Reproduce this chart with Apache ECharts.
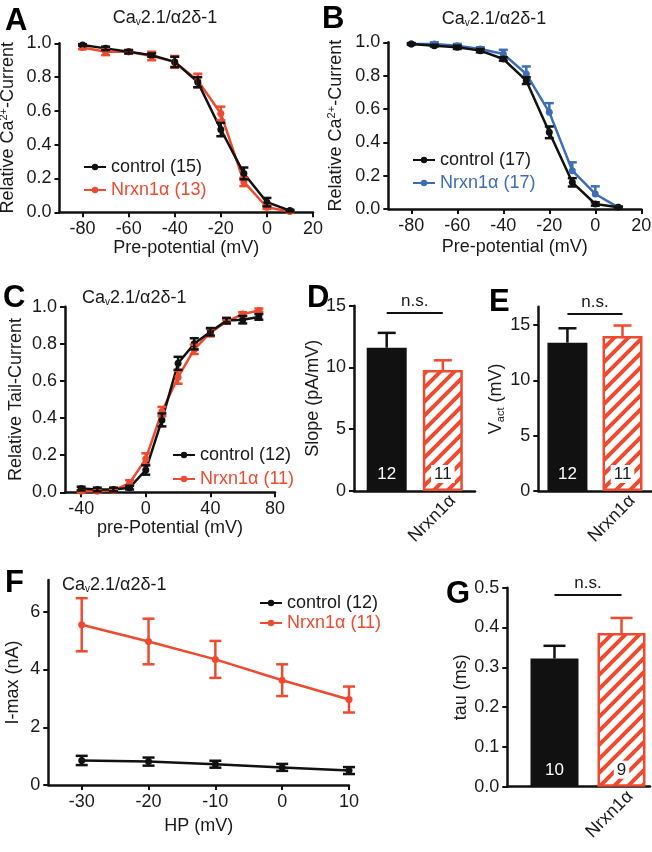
<!DOCTYPE html>
<html><head><meta charset="utf-8">
<script src="https://cdn.jsdelivr.net/npm/echarts@6/dist/echarts.min.js"></script>
<style>html,body{margin:0;padding:0;background:#fff}#c{width:652px;height:852px}</style>
</head><body><div id="c"></div>
<script>
// ---------- data ----------
const abX = [-80,-70,-60,-50,-40,-30,-20,-10,0,10];
const aCtrl    = [0.99,0.97,0.95,0.93,0.89,0.77,0.49,0.23,0.06,0.01];
const aCtrlErr = [0.005,0.01,0.01,0.01,0.03,0.03,0.04,0.035,0.025,0.005];
const aNrx     = [0.975,0.95,0.95,0.925,0.89,0.78,0.585,0.18,0.03,0.005];
const aNrxErr  = [0.01,0.02,0.01,0.025,0.035,0.04,0.04,0.025,0.01,0.005];

const bCtrl    = [0.99,0.98,0.97,0.95,0.90,0.77,0.46,0.16,0.03,0.01];
const bCtrlErr = [0.005,0.005,0.01,0.01,0.01,0.02,0.035,0.025,0.01,0.005];
const bNrx     = [0.99,0.99,0.98,0.96,0.93,0.81,0.58,0.23,0.09,0.01];
const bNrxErr  = [0.005,0.01,0.01,0.01,0.025,0.045,0.055,0.05,0.046,0.005];

const cX = [-40,-30,-20,-10,0,10,20,30,40,50,60,70];
const cCtrl    = [0.02,0.015,0.015,0.025,0.12,0.39,0.695,0.80,0.865,0.925,0.93,0.945];
const cCtrlErr = [0.01,0.01,0.01,0.01,0.025,0.035,0.035,0.03,0.02,0.015,0.02,0.015];
const cNrx     = [0.005,0.005,0.01,0.05,0.18,0.435,0.62,0.77,0.86,0.92,0.96,0.98];
const cNrxErr  = [0.005,0.005,0.005,0.015,0.03,0.025,0.035,0.025,0.02,0.01,0.01,0.01];

const fX = [-30,-20,-10,0,10];
const fCtrl    = [0.85,0.81,0.72,0.61,0.50];
const fCtrlErr = [0.16,0.14,0.12,0.12,0.12];
const fNrx     = [5.55,4.97,4.35,3.63,2.96];
const fNrxErr  = [0.92,0.79,0.64,0.55,0.45];

const barTickLabels = ['', 'Nrxn1α'];
const dVals = [11.6, 9.8];    const dErr = [1.2, 0.78];   const dN = [12, 11];  const dNs = 14.4;
const eVals = [13.4, 14.0];   const eErr = [1.3, 0.95];   const eN = [12, 11];  const eNs = 16.05;
const gVals = [0.322, 0.386]; const gErr = [0.032, 0.038]; const gN = [10, 9];  const gNs = 0.483;

const ticksAB_X = [-80,-60,-40,-20,0,20];
const ticksABC_Y = [0,0.2,0.4,0.6,0.8,1.0];
const ticksC_X = [-40,0,40,80];
const ticksF_X = [-30,-20,-10,0,10];
const ticksF_Y = [0,2,4,6];
const ticksDE_Y = [0,5,10,15];
const ticksG_Y = [0,0.1,0.2,0.3,0.4,0.5];

// ---------- style ----------
const FONT = '"Liberation Sans", Arial, Helvetica, sans-serif';
const RED = '#ee4a2f', BLUE = '#3d6db5', BLACK = '#111111', TXT = '#1a1a1a';
const RICH = {
  a:{fontSize:18, fontFamily:FONT, color:TXT},
  sup:{fontSize:11, fontFamily:FONT, color:TXT, padding:[0,0,9,0]},
  sub:{fontSize:11, fontFamily:FONT, color:TXT, padding:[9,0,0,0]}
};

// hatch pattern
const pc = document.createElement('canvas');
pc.width = 14; pc.height = 14;
const g2 = pc.getContext('2d');
g2.fillStyle = '#fff'; g2.fillRect(0,0,14,14);
g2.strokeStyle = RED; g2.lineWidth = 4;
g2.beginPath();
g2.moveTo(-2,16); g2.lineTo(16,-2);
g2.moveTo(-9,9); g2.lineTo(9,-9);
g2.moveTo(5,23); g2.lineTo(23,5);
g2.stroke();
const HATCH = {image: pc, repeat: 'repeat'};

function axisCommon(o) {
  return Object.assign({
    nameLocation:'middle',
    axisLine:{onZero:false, lineStyle:{color:BLACK, width:2.5}},
    splitLine:{show:false},
    nameTextStyle:{fontSize:18, color:TXT, fontFamily:FONT, rich:RICH}
  }, o);
}
function ticksOpt(vals, show) {
  return {show: show !== false, customValues: vals, length:5, lineStyle:{color:BLACK, width:2}};
}
function labelsOpt(vals, fmt, extra) {
  return Object.assign({customValues: vals, fontSize:18, color:TXT, fontFamily:FONT, margin:8, formatter: fmt}, extra || {});
}
const f1 = v => v.toFixed(1);
const f0 = v => String(Math.round(v));
// rotated category label, nudged right (in axis units) so its end sits past the bar centre
function catLabel(shift) {
  return labelsOpt([2 + shift], v => barTickLabels[Math.round(v)-1], {rotate:45, margin:7});
}

const grids = [
  {left:59.5, top:43.3, width:253.5, height:169},   // A
  {left:388.3, top:42.3, width:253, height:166.7},  // B
  {left:65, top:306.7, width:210, height:185.6},    // C
  {left:354, top:305.7, width:121, height:185.3},   // D
  {left:538.3, top:306.7, width:113.4, height:184.3}, // E
  {left:48.3, top:580, width:300.7, height:205},    // F
  {left:507.3, top:587.7, width:142.7, height:199}  // G
].map(g => Object.assign({outerBoundsMode:'none', containLabel:false}, g));

const xAxis = [
  axisCommon({type:'value', gridIndex:0, min:-90, max:20, name:'Pre-potential (mV)', nameGap:27,
    axisTick:ticksOpt(ticksAB_X), axisLabel:labelsOpt(ticksAB_X, f0)}),
  axisCommon({type:'value', gridIndex:1, min:-90, max:20, name:'Pre-potential (mV)', nameGap:29,
    axisTick:ticksOpt(ticksAB_X), axisLabel:labelsOpt(ticksAB_X, f0)}),
  axisCommon({type:'value', gridIndex:2, min:-50, max:80, name:'pre-Potential (mV)', nameGap:27,
    axisTick:ticksOpt(ticksC_X), axisLabel:labelsOpt(ticksC_X, f0)}),
  axisCommon({type:'value', gridIndex:3, min:0.417, max:2.574,
    axisTick:{show:false}, axisLabel:catLabel(0.18)}),
  axisCommon({type:'value', gridIndex:4, min:0.471, max:2.53,
    axisTick:{show:false}, axisLabel:catLabel(0.18)}),
  axisCommon({type:'value', gridIndex:5, min:-35, max:10, name:'HP (mV)', nameGap:32,
    axisTick:ticksOpt(ticksF_X), axisLabel:labelsOpt(ticksF_X, f0)}),
  axisCommon({type:'value', gridIndex:6, min:0.296, max:2.425,
    axisTick:{show:false}, axisLabel:catLabel(0.13)})
];
const yAxis = [
  axisCommon({type:'value', gridIndex:0, min:0, max:1, name:'{a|Relative Ca}{sup|2+}{a|-Current}', nameGap:41,
    axisTick:ticksOpt(ticksABC_Y), axisLabel:labelsOpt(ticksABC_Y, f1)}),
  axisCommon({type:'value', gridIndex:1, min:0, max:1, name:'{a|Relative Ca}{sup|2+}{a|-Current}', nameGap:42,
    axisTick:ticksOpt(ticksABC_Y), axisLabel:labelsOpt(ticksABC_Y, f1)}),
  axisCommon({type:'value', gridIndex:2, min:0, max:1, name:'Relative Tail-Current', nameGap:40,
    axisTick:ticksOpt(ticksABC_Y), axisLabel:labelsOpt(ticksABC_Y, f1)}),
  axisCommon({type:'value', gridIndex:3, min:0, max:15, name:'Slope (pA/mV)', nameGap:23,
    axisTick:ticksOpt(ticksDE_Y), axisLabel:labelsOpt(ticksDE_Y, f0)}),
  axisCommon({type:'value', gridIndex:4, min:0, max:16.65, name:'{a|V}{sub|act}{a| (mV)}', nameGap:31,
    axisTick:ticksOpt(ticksDE_Y), axisLabel:labelsOpt(ticksDE_Y, f0)}),
  axisCommon({type:'value', gridIndex:5, min:0, max:7.1, name:'I-max (nA)', nameGap:26,
    axisTick:ticksOpt(ticksF_Y), axisLabel:labelsOpt(ticksF_Y, f0)}),
  axisCommon({type:'value', gridIndex:6, min:0, max:0.5, name:'tau (ms)', nameGap:36,
    axisTick:ticksOpt(ticksG_Y), axisLabel:labelsOpt(ticksG_Y, f1)})
];

function lineSeries(name, gi, xs, ys, color) {
  return {type:'line', name, xAxisIndex:gi, yAxisIndex:gi, data: xs.map((x,i)=>[x, ys[i]]),
    symbol:'circle', symbolSize:7, showSymbol:true, color,
    lineStyle:{color, width:2.5}, itemStyle:{color}, emphasis:{disabled:true}, silent:true, z:3};
}
function errSeries(gi, xs, ys, errs, colors, cap, upOnly, lw) {
  return {type:'custom', xAxisIndex:gi, yAxisIndex:gi, silent:true, z:4,
    data: xs.map((x,i)=>[x, ys[i], errs[i]]),
    encode:{x:0, y:1},
    renderItem: (params, api) => {
      const x = api.value(0), y = api.value(1), e = api.value(2);
      const c = Array.isArray(colors) ? colors[params.dataIndex] : colors;
      const p0 = api.coord([x, y + e]);
      const p1 = api.coord([x, upOnly ? y : y - e]);
      const hw = cap/2;
      const st = {stroke:c, lineWidth:lw || 2.5};
      const ch = [
        {type:'line', shape:{x1:p0[0], y1:p0[1], x2:p1[0], y2:p1[1]}, style:st},
        {type:'line', shape:{x1:p0[0]-hw, y1:p0[1], x2:p0[0]+hw, y2:p0[1]}, style:st}
      ];
      if (!upOnly) ch.push({type:'line', shape:{x1:p1[0]-hw, y1:p1[1], x2:p1[0]+hw, y2:p1[1]}, style:st});
      return {type:'group', children:ch};
    }};
}
function barSeries(gi, vals, ns, nsY, bw) {
  return {type:'bar', xAxisIndex:gi, yAxisIndex:gi, barWidth:bw, silent:true, z:2,
    data: vals.map((v,i)=>({
      value:[i+1, v],
      itemStyle: i===0 ? {color:BLACK} : {color:HATCH, borderColor:RED, borderWidth:2.5},
      label: {show:true, position:'insideBottom', distance:8, formatter:String(ns[i]), fontSize:17, fontFamily:FONT,
        color: i===0 ? '#fff' : TXT, backgroundColor: i===0 ? 'transparent' : '#fff', padding: i===0 ? 0 : [1,3,0,3]}
    })),
    markLine:{silent:true, symbol:['none','none'], animation:false,
      lineStyle:{color:BLACK, width:2, type:'solid'},
      label:{show:true, position:'insideMiddleTop', formatter:'n.s.', fontSize:17, fontFamily:FONT, color:TXT, distance:3},
      emphasis:{disabled:true},
      data:[[{coord:[1, nsY]}, {coord:[2, nsY]}]]}
  };
}

const series = [
  lineSeries('Nrxn1α (13)', 0, abX, aNrx, RED),
  errSeries(0, abX, aNrx, aNrxErr, RED, 9, false),
  lineSeries('control (15)', 0, abX, aCtrl, BLACK),
  errSeries(0, abX, aCtrl, aCtrlErr, BLACK, 9, false),

  lineSeries('Nrxn1α (17)', 1, abX, bNrx, BLUE),
  errSeries(1, abX, bNrx, bNrxErr, BLUE, 9, true),
  lineSeries('control (17)', 1, abX, bCtrl, BLACK),
  errSeries(1, abX, bCtrl, bCtrlErr, BLACK, 9, false),

  lineSeries('Nrxn1α (11)', 2, cX, cNrx, RED),
  errSeries(2, cX, cNrx, cNrxErr, RED, 9, false),
  lineSeries('control (12)', 2, cX, cCtrl, BLACK),
  errSeries(2, cX, cCtrl, cCtrlErr, BLACK, 9, false),

  barSeries(3, dVals, dN, dNs, 40),
  errSeries(3, [1,2], dVals, dErr, [BLACK, RED], 18, true),
  barSeries(4, eVals, eN, eNs, 40),
  errSeries(4, [1,2], eVals, eErr, [BLACK, RED], 18, true),

  lineSeries('Nrxn1α (11)', 5, fX, fNrx, RED),
  errSeries(5, fX, fNrx, fNrxErr, RED, 12, false),
  lineSeries('control (12)', 5, fX, fCtrl, BLACK),
  errSeries(5, fX, fCtrl, fCtrlErr, BLACK, 12, false),

  barSeries(6, gVals, gN, gNs, 48),
  errSeries(6, [1,2], gVals, gErr, [BLACK, RED], 22, true)
];

function legendAt(left, top, gap, names, colors) {
  return {left, top, orient:'vertical', itemWidth:22, itemHeight:8, itemGap:gap, selectedMode:false,
    textStyle:{fontSize:18, fontFamily:FONT, lineHeight:18},
    data: names.map((n,i)=>({name:n, textStyle:{color:colors[i]}}))};
}
const legend = [
  legendAt(78, 153, 5, ['control (15)','Nrxn1α (13)'], [TXT, RED]),
  legendAt(407, 146, 5, ['control (17)','Nrxn1α (17)'], [TXT, BLUE]),
  legendAt(167, 441, 6, ['control (12)','Nrxn1α (11)'], [TXT, RED]),
  legendAt(254, 589, 2, ['control (12)','Nrxn1α (11)'], [TXT, RED])
];

const TRICH = {
  a:{fontSize:18, fontFamily:FONT, fill:TXT},
  s:{fontSize:10, fontFamily:FONT, fill:TXT, padding:[9,0,0,0]}
};
function title(x, y, align) {
  return {type:'text', x, y, silent:true,
    style:{text:'{a|Ca}{s|v}{a|2.1/α2δ-1}', rich:TRICH, align: align||'left', verticalAlign:'middle', fontFamily:FONT, fontSize:18, fill:TXT}};
}
function letter(ch, x, y) {
  return {type:'text', x, y, silent:true,
    style:{text:ch, fontSize:31, fontWeight:'bold', fontFamily:FONT, fill:'#000', verticalAlign:'middle', align:'left'}};
}
const graphic = [
  title(165, 18, 'center'), title(494, 19, 'center'), title(82, 298), title(62, 585),
  letter('A', 5, 21), letter('B', 322, 19), letter('C', 3, 298), letter('D', 307, 298),
  letter('E', 489, 302), letter('F', 5, 583), letter('G', 446, 594)
];

const chart = echarts.init(document.getElementById('c'), null, {renderer:'canvas', width:652, height:852});
chart.setOption({animation:false, textStyle:{fontFamily:FONT}, grid:grids, xAxis, yAxis, legend, graphic, series});
</script></body></html>
